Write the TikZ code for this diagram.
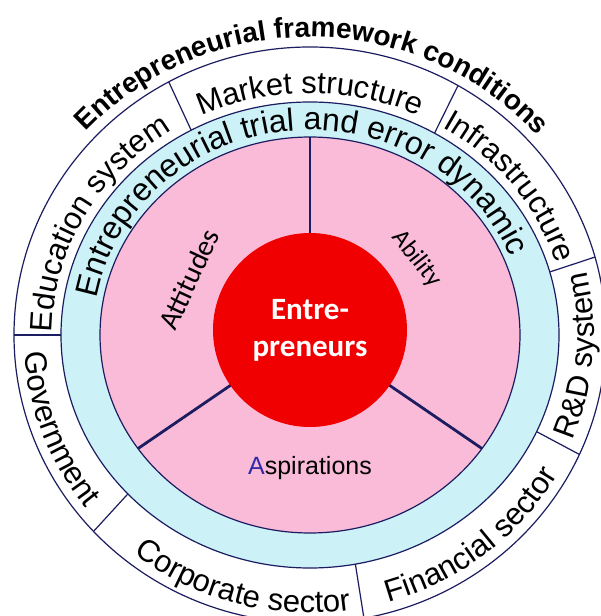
\documentclass[tikz,border=0pt]{standalone}
\usepackage{fontspec}
\setmainfont{Liberation Sans}
\newfontfamily\calfont{Carlito}
\usetikzlibrary{decorations.text}
\definecolor{pinkfill}{RGB}{249,187,216}
\definecolor{ringblue}{RGB}{204,242,248}
\definecolor{corered}{RGB}{240,0,0}
\definecolor{navy}{RGB}{28,28,96}
\definecolor{aspblue}{RGB}{50,40,170}

\begin{document}
\begin{tikzpicture}[x=1pt,y=1pt,
  edge/.style={draw=navy,line width=1.2pt},
  spoke/.style={navy,line width=2.8pt},
  curved/.style={decorate,decoration={text along path,text align=center,text={#1}}}]
\useasboundingbox (-310,-281) rectangle (291,335);
\clip (-310,-281) rectangle (291,335);
\fill[white] (-310,-281) rectangle (291,335);
\draw[edge,fill=white] (0,0) ellipse [x radius=296,y radius=288];
\draw[edge,fill=ringblue] (0,0) ellipse [x radius=249,y radius=233];
\draw[edge,fill=pinkfill] (0,0) ellipse [x radius=210,y radius=198];
\foreach \a in {180,118.5,60,15.7,-24.5,-79.5,-137}
  \draw[edge] (\a:249 and 233) -- (\a:296 and 288);
\foreach \a in {90,215,325}
  \draw[spoke] (0,4) -- (\a:210 and 198);
\node[circle,fill=corered,minimum size=194pt,inner sep=0pt,text=white,align=center,
  font=\calfont\bfseries\fontsize{31}{37}\selectfont] (core) at (0,5) {Entre-\\preneurs};
\node[rotate=65,font=\calfont\fontsize{29}{32}\selectfont] (attitudes) at (-121,56) {Attitudes};
\node[rotate=-52,font=\calfont\fontsize{25}{28}\selectfont] (ability) at (107,76) {Ability};
\node[font=\fontsize{25}{30}\selectfont] (aspirations) at (0,-133) {{\color{aspblue}A}spirations};
\fontsize{31}{34}\selectfont
\path[curved={Education system}] (185:258 and 242) arc[start angle=185,end angle=117,x radius=258,y radius=242];
\path[curved={Market structure}] (125:258 and 242) arc[start angle=125,end angle=55,x radius=258,y radius=242];
\path[curved={Infrastructure}] (64:258 and 242) arc[start angle=64,end angle=12,x radius=258,y radius=242];
\path[curved={R{\&}D system}] (-27:284 and 277) arc[start angle=-27,end angle=18,x radius=284,y radius=277];
\path[curved={Financial sector}] (-82:286 and 278) arc[start angle=-82,end angle=-22,x radius=286,y radius=278];
\path[curved={Corporate sector}] (-136:286 and 278) arc[start angle=-136,end angle=-74,x radius=286,y radius=278];
\path[curved={Government}] (180:286 and 278) arc[start angle=180,end angle=222,x radius=286,y radius=278];
\fontsize{32}{34}\selectfont
\path[curved={Entrepreneurial trial and error dynamic}] (176:217 and 205) arc[start angle=176,end angle=16,x radius=217,y radius=205];
\fontsize{28}{32}\selectfont
\path[curved={|\bfseries|Entrepreneurial framework conditions}] (142:306 and 298) arc[start angle=142,end angle=37,x radius=306,y radius=298];
\end{tikzpicture}
\end{document}
